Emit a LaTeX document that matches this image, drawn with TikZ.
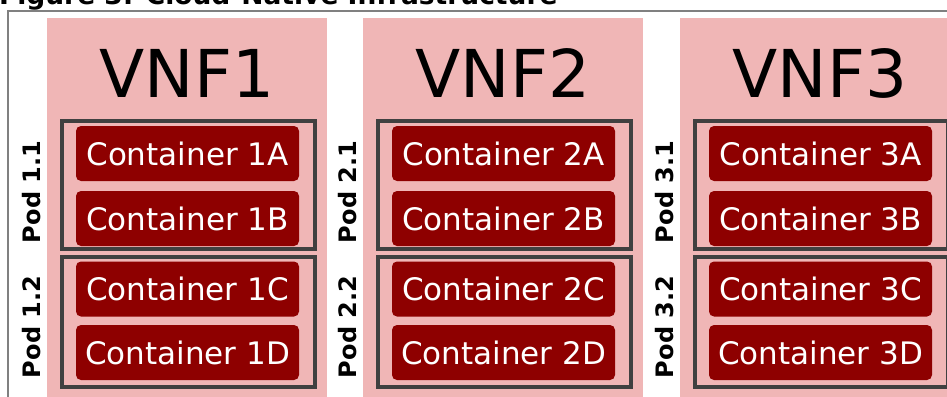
\documentclass[tikz,border=0pt]{standalone}
\usepackage{fontspec}
\setmainfont{DejaVu Sans}
\definecolor{vnfpink}{RGB}{240,182,182}
\definecolor{boxred}{RGB}{142,0,0}
\definecolor{podgray}{RGB}{64,64,64}
\definecolor{framegray}{RGB}{128,128,128}
\begin{document}
\begin{tikzpicture}[x=1pt,y=-1pt,
    vnf/.style={fill=vnfpink,draw=none},
    vnftitle/.style={font=\fontsize{66}{70}\selectfont,text=black},
    podbox/.style={draw=podgray,line width=3.6pt},
    podlabel/.style={rotate=90,font=\fontsize{24}{26}\selectfont\bfseries},
    container/.style={fill=boxred,text=white,rounded corners=5pt,
      minimum width=223pt,minimum height=55pt,inner sep=0pt,
      font=\fontsize{31}{33}\selectfont}]

    \useasboundingbox (0,0) rectangle (947,396);
    \clip (0,0) rectangle (947,396);

    % title and frame
    \node[anchor=base west,inner sep=0pt,font=\fontsize{26.5}{28}\selectfont\bfseries]
      (title) at (-1,5){Figure 3: Cloud-Native Infrastructure};
    \draw[framegray,line width=1.5pt](8, 400) to (8, 11) to (960, 11);

    % VNF1
    \fill[vnf](47, 18) rectangle (327, 400);
      \node[vnftitle] (vnf1) at (187, 73){VNF1};
      \draw[podbox](62, 121) rectangle (315, 249);
      \draw[podbox](62, 257) rectangle (315, 387);
      \node[podlabel] (pod11) at (32, 192){Pod 1.1};
      \node[podlabel] (pod12) at (32, 327){Pod 1.2};
      \node[container] (c1a) at (187.5, 153.5){Container 1A};
      \node[container] (c1b) at (187.5, 218.5){Container 1B};
      \node[container] (c1c) at (187.5, 289){Container 1C};
      \node[container] (c1d) at (187.5, 352.5){Container 1D};

    % VNF2
    \fill[vnf](363, 18) rectangle (643, 400);
      \node[vnftitle] (vnf2) at (503, 73){VNF2};
      \draw[podbox](378, 121) rectangle (631, 249);
      \draw[podbox](378, 257) rectangle (631, 387);
      \node[podlabel] (pod21) at (348, 192){Pod 2.1};
      \node[podlabel] (pod22) at (348, 327){Pod 2.2};
      \node[container] (c2a) at (503.5, 153.5){Container 2A};
      \node[container] (c2b) at (503.5, 218.5){Container 2B};
      \node[container] (c2c) at (503.5, 289){Container 2C};
      \node[container] (c2d) at (503.5, 352.5){Container 2D};

    % VNF3
    \fill[vnf](680, 18) rectangle (960, 400);
      \node[vnftitle] (vnf3) at (820, 73){VNF3};
      \draw[podbox](695, 121) rectangle (948, 249);
      \draw[podbox](695, 257) rectangle (948, 387);
      \node[podlabel] (pod31) at (665, 192){Pod 3.1};
      \node[podlabel] (pod32) at (665, 327){Pod 3.2};
      \node[container] (c3a) at (820.5, 153.5){Container 3A};
      \node[container] (c3b) at (820.5, 218.5){Container 3B};
      \node[container] (c3c) at (820.5, 289){Container 3C};
      \node[container] (c3d) at (820.5, 352.5){Container 3D};
  \end{tikzpicture}
\end{document}
